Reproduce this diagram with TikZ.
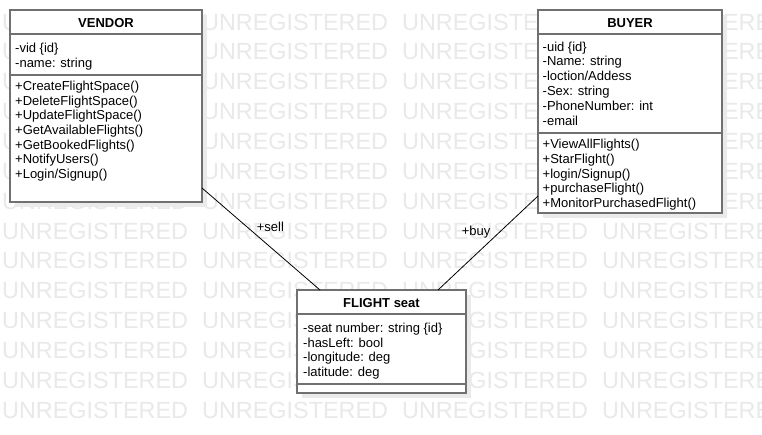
\documentclass[tikz,border=0pt]{standalone}
\usepackage{fontspec}
\setmainfont{Liberation Sans}
\definecolor{boxgray}{RGB}{112,112,112}
\definecolor{shadowgray}{RGB}{234,234,234}
\definecolor{wmgray}{RGB}{233,233,233}
\begin{document}
\begin{tikzpicture}[x=1pt,y=-1pt,
  box/.style={draw=boxgray, line width=1.6pt, fill=white, inner sep=0pt, outer sep=0pt, anchor=north west},
  shadowbox/.style={fill=shadowgray, draw=none, inner sep=0pt, outer sep=0pt, anchor=north west},
  sep/.style={draw=boxgray, line width=1.6pt},
  txt/.style={anchor=base west, inner sep=0pt, font=\fontsize{13}{15}\selectfont},
  ttl/.style={anchor=base, inner sep=0pt, font=\fontsize{13}{15}\selectfont\bfseries},
  wm/.style={anchor=west, inner sep=0pt, text=wmgray, font=\fontsize{23.4}{28}\selectfont},
  assoc/.style={draw=black, line width=0.8pt},
  lbl/.style={anchor=base west, inner sep=0pt, font=\fontsize{13}{15}\selectfont}]
\useasboundingbox (0,0) rectangle (762,434);
\fill[white] (0,0) rectangle (762,434);
% watermark
\foreach \r in {0,...,13}{
  \foreach \c in {0,...,3}{
    \node[wm] (wm-\r-\c) at ({2+200*\c},{22+29.85*\r}) {UNREGISTERED};
  }
}
% shadows
\node[shadowbox, minimum width=192pt, minimum height=192pt] (vshadow) at (15,15) {};
\node[shadowbox, minimum width=184pt, minimum height=203pt] (bshadow) at (543,15) {};
\node[shadowbox, minimum width=169pt, minimum height=103pt] (fshadow) at (302,295) {};
% boxes
\node[box, minimum width=192pt, minimum height=192pt] (vendor) at (10,10) {};
\node[box, minimum width=184pt, minimum height=203pt] (buyer) at (538,10) {};
\node[box, minimum width=169pt, minimum height=103pt] (flight) at (297,290) {};
% separators
\draw[sep] ([yshift=-24pt]vendor.north west) -- ([yshift=-24pt]vendor.north east);
\draw[sep] ([yshift=-65pt]vendor.north west) -- ([yshift=-65pt]vendor.north east);
\draw[sep] ([yshift=-24pt]buyer.north west) -- ([yshift=-24pt]buyer.north east);
\draw[sep] ([yshift=-123pt]buyer.north west) -- ([yshift=-123pt]buyer.north east);
\draw[sep] ([yshift=-24pt]flight.north west) -- ([yshift=-24pt]flight.north east);
\draw[sep] ([yshift=-94pt]flight.north west) -- ([yshift=-94pt]flight.north east);
% VENDOR
\node[ttl] (vt) at (106,27.7) {VENDOR};
\node[txt] (va1) at (15,52.6) {-vid \{id\}};
\node[txt] (va2) at (15,67.2) {-name: string};
\node[txt] (vm1) at (15,90.7) {+CreateFlightSpace()};
\node[txt] (vm2) at (15,105.3) {+DeleteFlightSpace()};
\node[txt] (vm3) at (15,119.9) {+UpdateFlightSpace()};
\node[txt] (vm4) at (15,134.5) {+GetAvailableFlights()};
\node[txt] (vm5) at (15,149.1) {+GetBookedFlights()};
\node[txt] (vm6) at (15,163.7) {+NotifyUsers()};
\node[txt] (vm7) at (15,178.3) {+Login/Signup()};
% BUYER
\node[ttl] (bt) at (630,27.7) {BUYER};
\node[txt] (ba1) at (542.5,51.0) {-uid \{id\}};
\node[txt] (ba2) at (542.5,65.8) {-Name: string};
\node[txt] (ba3) at (542.5,80.6) {-loction/Addess};
\node[txt] (ba4) at (542.5,95.4) {-Sex: string};
\node[txt] (ba5) at (542.5,110.2) {-PhoneNumber: int};
\node[txt] (ba6) at (542.5,125.0) {-email};
\node[txt] (bm1) at (542.5,148.6) {+ViewAllFlights()};
\node[txt] (bm2) at (542.5,163.35) {+StarFlight()};
\node[txt] (bm3) at (542.5,178.1) {+login/Signup()};
\node[txt] (bm4) at (542.5,192.85) {+purchaseFlight()};
\node[txt] (bm5) at (542.5,207.6) {+MonitorPurchasedFlight()};
% FLIGHT seat
\node[ttl] (ft) at (381.5,307.2) {FLIGHT seat};
\node[txt] (fa1) at (303,332.4) {-seat number: string \{id\}};
\node[txt] (fa2) at (303,347.1) {-hasLeft: bool};
\node[txt] (fa3) at (303,361.8) {-longitude: deg};
\node[txt] (fa4) at (303,376.5) {-latitude: deg};
% associations
\draw[assoc] ([yshift=14pt]vendor.south east) -- ([xshift=23pt]flight.north west);
\draw[assoc] ([yshift=17pt]buyer.south west) -- ([xshift=141pt]flight.north west);
\node[lbl] (sell) at (256.7,231.7) {+sell};
\node[lbl] (buy) at (461.7,235.0) {+buy};
\end{tikzpicture}
\end{document}
